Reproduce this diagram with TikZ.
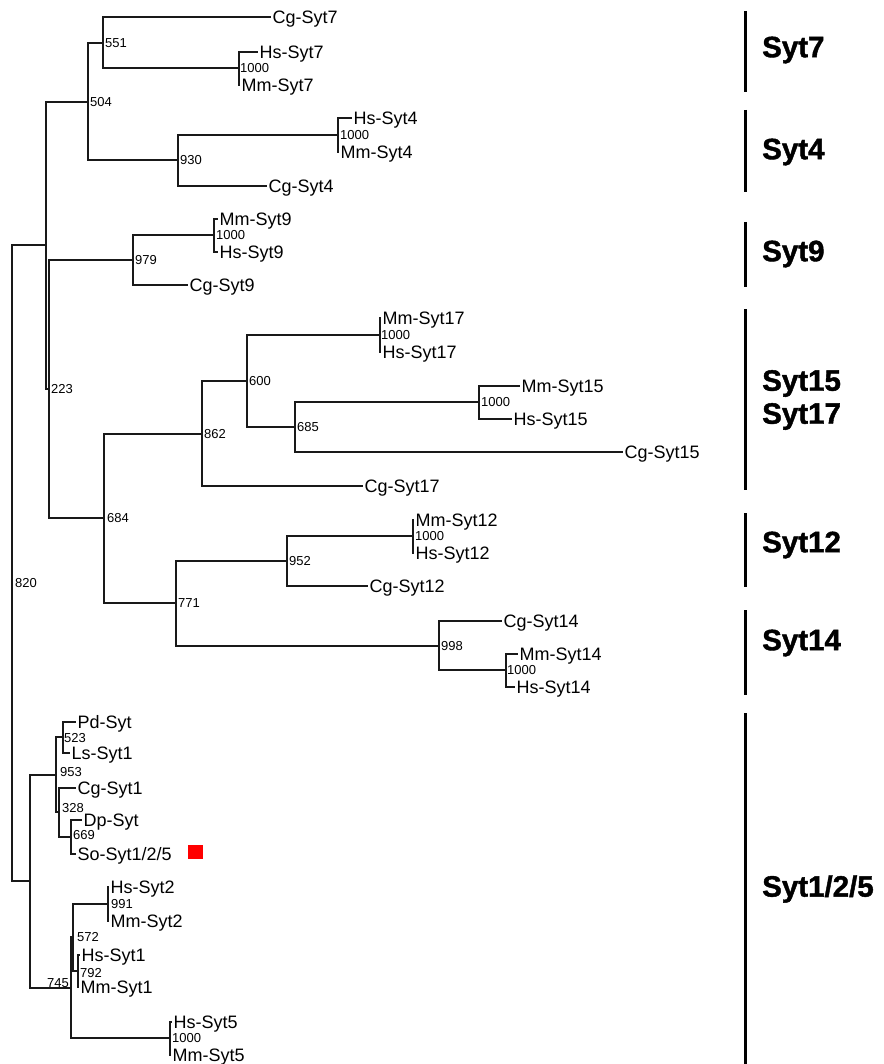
\documentclass[tikz,border=0pt]{standalone}
\usepackage{fontspec}
\setmainfont{Liberation Sans}
\newfontfamily\cladefont{Liberation Sans}[FakeBold=1.4]
\usepackage{xcolor}
\usepackage{tikz}
\usetikzlibrary{positioning,calc}
\tikzset{
  branchLine/.style={
    line width=1.5pt,
    draw=black!90
  },
  leafLabel/.style={
    anchor=west,
    inner sep=1.5pt,
    text height=13pt,
    text depth=0pt,
    font=\fontsize{18}{20}\selectfont
  },
  bootLabel/.style={
    inner sep=0pt,
    font=\fontsize{13}{14}\selectfont
  },
  cladeBar/.style={
    line width=3pt
  },
  cladeLabel/.style={
    anchor=west,
    inner sep=0pt,
    align=left,
    font=\cladefont\bfseries\fontsize{29.5}{33}\selectfont
  },
  markBox/.style={
    rectangle,
    fill=red,
    minimum width=15pt,
    minimum height=14pt,
    inner sep=0pt
  }
}

\begin{document}
\begin{tikzpicture}[
            x=1pt, y=-1pt,
            node distance=2pt
        ]
        \useasboundingbox (0,0) rectangle (883,1064);

        % internal nodes
        \coordinate (root) at (12,563);
        \coordinate (nA) at (46,245);
        \coordinate (n504) at (88,102);
        \coordinate (n551) at (103,43);
        \coordinate (p7) at (239,68);
        \coordinate (n930) at (178,160);
        \coordinate (p4) at (338,135);
        \coordinate (n223) at (49,389);
        \coordinate (n979) at (133,260);
        \coordinate (p9) at (214,235);
        \coordinate (n684) at (104,518);
        \coordinate (n862) at (202,434);
        \coordinate (n600) at (247,381);
        \coordinate (p17) at (380,335);
        \coordinate (n685) at (295,427);
        \coordinate (p15) at (479,402);
        \coordinate (n771) at (176,603);
        \coordinate (n952) at (287,561);
        \coordinate (p12) at (413,536);
        \coordinate (n998) at (439,646);
        \coordinate (p14) at (506,670);
        \coordinate (nB) at (30,881);
        \coordinate (n953) at (56,775);
        \coordinate (n523) at (63,737);
        \coordinate (n328) at (59,812);
        \coordinate (n669) at (71,837);
        \coordinate (n745) at (71,988);
        \coordinate (n572) at (73,937);
        \coordinate (p2) at (108,904);
        \coordinate (n792) at (78,971);
        \coordinate (p5) at (170,1038);

        % leaves
        \node[leafLabel] (cgSyt7) at (271,17) {Cg-Syt7};
        \node[leafLabel] (hsSyt7) at (258,52) {Hs-Syt7};
        \node[leafLabel] (mmSyt7) at (240,85) {Mm-Syt7};
        \node[leafLabel] (hsSyt4) at (352,118) {Hs-Syt4};
        \node[leafLabel] (mmSyt4) at (339,152) {Mm-Syt4};
        \node[leafLabel] (cgSyt4) at (267,186) {Cg-Syt4};
        \node[leafLabel] (mmSyt9) at (218,219) {Mm-Syt9};
        \node[leafLabel] (hsSyt9) at (218,252) {Hs-Syt9};
        \node[leafLabel] (cgSyt9) at (188,285) {Cg-Syt9};
        \node[leafLabel] (mmSyt17) at (381,318) {Mm-Syt17};
        \node[leafLabel] (hsSyt17) at (381,352) {Hs-Syt17};
        \node[leafLabel] (mmSyt15) at (520,386) {Mm-Syt15};
        \node[leafLabel] (hsSyt15) at (512,419) {Hs-Syt15};
        \node[leafLabel] (cgSyt15) at (623,452) {Cg-Syt15};
        \node[leafLabel] (cgSyt17) at (363,486) {Cg-Syt17};
        \node[leafLabel] (mmSyt12) at (414,520) {Mm-Syt12};
        \node[leafLabel] (hsSyt12) at (414,553) {Hs-Syt12};
        \node[leafLabel] (cgSyt12) at (368,586) {Cg-Syt12};
        \node[leafLabel] (cgSyt14) at (502,621) {Cg-Syt14};
        \node[leafLabel] (mmSyt14) at (518,654) {Mm-Syt14};
        \node[leafLabel] (hsSyt14) at (515,687) {Hs-Syt14};
        \node[leafLabel] (pdSyt) at (76,722) {Pd-Syt};
        \node[leafLabel] (lsSyt1) at (70,753) {Ls-Syt1};
        \node[leafLabel] (cgSyt1) at (76,788) {Cg-Syt1};
        \node[leafLabel] (dpSyt) at (82,820) {Dp-Syt};
        \node[leafLabel] (soSyt) at (76,854) {So-Syt1/2/5};
        \node[leafLabel] (hsSyt2) at (109,887) {Hs-Syt2};
        \node[leafLabel] (mmSyt2) at (109,921) {Mm-Syt2};
        \node[leafLabel] (hsSyt1) at (80,955) {Hs-Syt1};
        \node[leafLabel] (mmSyt1) at (79,987) {Mm-Syt1};
        \node[leafLabel] (hsSyt5) at (172,1022) {Hs-Syt5};
        \node[leafLabel] (mmSyt5) at (171,1055) {Mm-Syt5};

        \node[markBox] (soMark) at (195.5,852) {};

        % branches
        \foreach \parent/\child in {root/nA, root/nB, nA/n504, nA/n223,
            n504/n551, n504/n930, n551/cgSyt7, n551/p7, p7/hsSyt7, p7/mmSyt7,
            n930/p4, n930/cgSyt4, p4/hsSyt4, p4/mmSyt4,
            n223/n979, n223/n684, n979/p9, n979/cgSyt9, p9/mmSyt9, p9/hsSyt9,
            n684/n862, n684/n771, n862/n600, n862/cgSyt17,
            n600/p17, n600/n685, p17/mmSyt17, p17/hsSyt17,
            n685/p15, n685/cgSyt15, p15/mmSyt15, p15/hsSyt15,
            n771/n952, n771/n998, n952/p12, n952/cgSyt12, p12/mmSyt12, p12/hsSyt12,
            n998/cgSyt14, n998/p14, p14/mmSyt14, p14/hsSyt14,
            nB/n953, nB/n745, n953/n523, n953/n328, n523/pdSyt, n523/lsSyt1,
            n328/cgSyt1, n328/n669, n669/dpSyt, n669/soSyt,
            n745/n572, n745/p5, n572/p2, n572/n792,
            p2/hsSyt2, p2/mmSyt2, n792/hsSyt1, n792/mmSyt1, p5/hsSyt5, p5/mmSyt5}
            \draw[branchLine] (\parent) |- (\child);

        % bootstrap values
        \node[bootLabel, anchor=west] (b820) at (15,583) {820};
        \node[bootLabel, right=of n504] (b504) {504};
        \node[bootLabel, right=of n551] (b551) {551};
        \node[bootLabel, right=1pt of p7] (bp7) {1000};
        \node[bootLabel, right=of n930] (b930) {930};
        \node[bootLabel, right=of p4] (bp4) {1000};
        \node[bootLabel, right=of n223] (b223) {223};
        \node[bootLabel, right=of n979] (b979) {979};
        \node[bootLabel, right=of p9] (bp9) {1000};
        \node[bootLabel, right=3pt of n684] (b684) {684};
        \node[bootLabel, right=of n862] (b862) {862};
        \node[bootLabel, right=of n600] (b600) {600};
        \node[bootLabel, right=1pt of p17] (bp17) {1000};
        \node[bootLabel, right=of n685] (b685) {685};
        \node[bootLabel, right=of p15] (bp15) {1000};
        \node[bootLabel, right=of n771] (b771) {771};
        \node[bootLabel, right=of n952] (b952) {952};
        \node[bootLabel, right=of p12] (bp12) {1000};
        \node[bootLabel, right=of n998] (b998) {998};
        \node[bootLabel, right=1pt of p14] (bp14) {1000};
        \node[bootLabel, right=1pt of n523, yshift=-1.5pt] (b523) {523};
        \node[bootLabel, right=4pt of n953, yshift=3pt] (b953) {953};
        \node[bootLabel, right=3pt of n328, yshift=4pt] (b328) {328};
        \node[bootLabel, right=of n669, yshift=2pt] (b669) {669};
        \node[bootLabel, right=3pt of p2] (bp2) {991};
        \node[bootLabel, right=4pt of n572] (b572) {572};
        \node[bootLabel, right=of n792, yshift=-2pt] (b792) {792};
        \node[bootLabel, left=of n745, yshift=5pt] (b745) {745};
        \node[bootLabel, right=of p5] (bp5) {1000};

        % clade bars
        \draw[cladeBar] (745,11) -- (745,92);
        \draw[cladeBar] (745,110) -- (745,192);
        \draw[cladeBar] (745,222) -- (745,287);
        \draw[cladeBar] (745,309) -- (745,490);
        \draw[cladeBar] (745,513) -- (745,587);
        \draw[cladeBar] (745,610) -- (745,695);
        \draw[cladeBar] (745,713) -- (745,1064);

        \node[cladeLabel] (cSyt7) at (762,50) {Syt7};
        \node[cladeLabel] (cSyt4) at (762,152) {Syt4};
        \node[cladeLabel] (cSyt9) at (762,254) {Syt9};
        \node[cladeLabel] (cSyt15) at (762,400) {Syt15\\Syt17};
        \node[cladeLabel] (cSyt12) at (762,545) {Syt12};
        \node[cladeLabel] (cSyt14) at (762,643) {Syt14};
        \node[cladeLabel] (cSyt125) at (762,889) {Syt1/2/5};

    \end{tikzpicture}
\end{document}
